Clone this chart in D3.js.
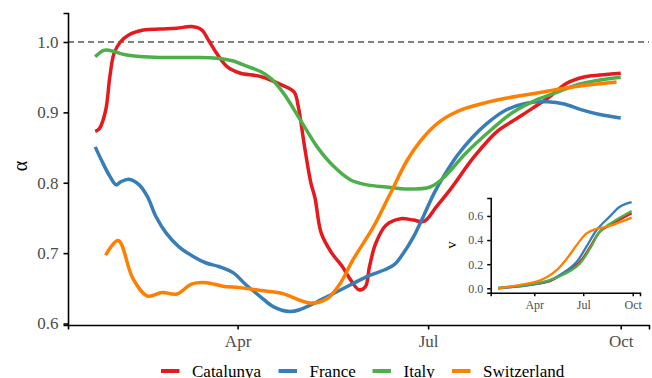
<!DOCTYPE html>
<html>
<head>
<meta charset="utf-8">
<script src="https://cdn.jsdelivr.net/npm/d3@7"></script>
<style>
  body { margin: 0; background: #fff; }
  svg { display: block; font-family: "Liberation Serif", "DejaVu Serif", serif; }
</style>
</head>
<body>
<svg id="chart" width="652" height="378"></svg>
<script>
// series names and colours
let countries = ["Catalunya", "France", "Italy", "Switzerland"];
let colors = ["#E41A1C", "#377EB8", "#4DAF4A", "#FF7F00"];

// alpha (main panel)
let alphaCatalunya = [
  ["2020-01-24", 0.873], ["2020-01-26", 0.877], ["2020-01-29", 0.903], ["2020-01-31", 0.951],
  ["2020-02-02", 0.984], ["2020-02-05", 1.000], ["2020-02-09", 1.010], ["2020-02-16", 1.017],
  ["2020-02-24", 1.0185], ["2020-03-03", 1.0195], ["2020-03-10", 1.022], ["2020-03-15", 1.017],
  ["2020-03-18", 1.003], ["2020-03-22", 0.984], ["2020-03-27", 0.965], ["2020-04-02", 0.956],
  ["2020-04-12", 0.951], ["2020-04-22", 0.939], ["2020-04-28", 0.929], ["2020-04-30", 0.908],
  ["2020-05-03", 0.851], ["2020-05-06", 0.800], ["2020-05-08", 0.778], ["2020-05-11", 0.728],
  ["2020-05-16", 0.700], ["2020-05-21", 0.681], ["2020-05-25", 0.662], ["2020-05-29", 0.648],
  ["2020-06-01", 0.652], ["2020-06-03", 0.681], ["2020-06-06", 0.714], ["2020-06-11", 0.740],
  ["2020-06-18", 0.749], ["2020-06-24", 0.747], ["2020-06-29", 0.745], ["2020-07-05", 0.766],
  ["2020-07-12", 0.792], ["2020-07-23", 0.837], ["2020-08-03", 0.873], ["2020-08-10", 0.887],
  ["2020-08-20", 0.906], ["2020-08-28", 0.922], ["2020-09-05", 0.941], ["2020-09-13", 0.950],
  ["2020-09-21", 0.953], ["2020-10-01", 0.9555]
];
let alphaFrance = [
  ["2020-01-24", 0.851], ["2020-01-27", 0.832], ["2020-01-31", 0.809], ["2020-02-03", 0.797],
  ["2020-02-05", 0.801], ["2020-02-09", 0.805], ["2020-02-14", 0.797], ["2020-02-18", 0.780],
  ["2020-02-22", 0.752], ["2020-02-27", 0.728], ["2020-03-04", 0.709], ["2020-03-11", 0.695],
  ["2020-03-17", 0.686], ["2020-03-23", 0.681], ["2020-03-30", 0.672], ["2020-04-05", 0.655],
  ["2020-04-12", 0.638], ["2020-04-18", 0.624], ["2020-04-26", 0.617], ["2020-05-01", 0.620],
  ["2020-05-09", 0.631], ["2020-05-17", 0.643], ["2020-05-25", 0.655], ["2020-06-02", 0.667],
  ["2020-06-10", 0.676], ["2020-06-15", 0.684], ["2020-06-19", 0.699], ["2020-06-24", 0.723],
  ["2020-06-29", 0.754], ["2020-07-04", 0.786], ["2020-07-09", 0.812], ["2020-07-15", 0.839],
  ["2020-07-22", 0.864], ["2020-07-29", 0.884], ["2020-08-07", 0.903], ["2020-08-17", 0.913],
  ["2020-08-27", 0.915], ["2020-09-04", 0.912], ["2020-09-12", 0.904], ["2020-09-21", 0.897],
  ["2020-10-01", 0.892]
];
let alphaItaly = [
  ["2020-01-24", 0.979], ["2020-01-28", 0.988], ["2020-01-31", 0.988], ["2020-02-08", 0.9815],
  ["2020-02-24", 0.978], ["2020-03-11", 0.978], ["2020-03-22", 0.977], ["2020-03-30", 0.973],
  ["2020-04-05", 0.966], ["2020-04-12", 0.958], ["2020-04-17", 0.948], ["2020-04-23", 0.927],
  ["2020-05-01", 0.889], ["2020-05-09", 0.851], ["2020-05-17", 0.823], ["2020-05-25", 0.804],
  ["2020-06-02", 0.797], ["2020-06-11", 0.794], ["2020-06-21", 0.791], ["2020-07-02", 0.794],
  ["2020-07-08", 0.806], ["2020-07-19", 0.842], ["2020-07-31", 0.875], ["2020-08-10", 0.899],
  ["2020-08-22", 0.918], ["2020-08-31", 0.928], ["2020-09-11", 0.940], ["2020-09-21", 0.946],
  ["2020-10-01", 0.950]
];
let alphaSwitzerland = [
  ["2020-01-29", 0.697], ["2020-02-04", 0.718], ["2020-02-11", 0.664], ["2020-02-18", 0.639],
  ["2020-02-25", 0.644], ["2020-03-03", 0.642], ["2020-03-10", 0.656], ["2020-03-17", 0.658],
  ["2020-03-25", 0.653], ["2020-04-02", 0.651], ["2020-04-12", 0.647], ["2020-04-22", 0.643],
  ["2020-05-06", 0.629], ["2020-05-14", 0.636], ["2020-05-20", 0.657], ["2020-05-26", 0.690],
  ["2020-06-05", 0.738], ["2020-06-13", 0.785], ["2020-06-21", 0.832], ["2020-06-27", 0.858],
  ["2020-07-02", 0.875], ["2020-07-07", 0.888], ["2020-07-12", 0.897], ["2020-07-18", 0.905],
  ["2020-07-26", 0.912], ["2020-08-07", 0.920], ["2020-08-23", 0.928], ["2020-09-08", 0.936],
  ["2020-09-29", 0.943]
];

// v (inset)
let vCatalunya = [
  ["2020-01-25", 0.0], ["2020-03-24", 0.030], ["2020-04-30", 0.060], ["2020-05-25", 0.124],
  ["2020-06-25", 0.221], ["2020-07-14", 0.345], ["2020-08-01", 0.470], ["2020-08-26", 0.539],
  ["2020-09-29", 0.622]
];
let vFrance = [
  ["2020-01-25", 0.0], ["2020-03-24", 0.027], ["2020-04-24", 0.055], ["2020-05-25", 0.129],
  ["2020-06-19", 0.221], ["2020-07-07", 0.345], ["2020-07-26", 0.484], ["2020-08-19", 0.594],
  ["2020-09-07", 0.677], ["2020-09-29", 0.714]
];
let vItaly = [
  ["2020-01-25", 0.005], ["2020-03-24", 0.033], ["2020-04-30", 0.069], ["2020-06-01", 0.129],
  ["2020-06-25", 0.207], ["2020-07-14", 0.332], ["2020-08-01", 0.470], ["2020-08-26", 0.553],
  ["2020-09-29", 0.641]
];
let vSwitzerland = [
  ["2020-01-25", 0.0], ["2020-03-05", 0.027], ["2020-04-05", 0.055], ["2020-04-24", 0.091],
  ["2020-05-13", 0.152], ["2020-06-01", 0.249], ["2020-06-19", 0.359], ["2020-07-07", 0.456],
  ["2020-07-23", 0.490], ["2020-08-14", 0.511], ["2020-09-07", 0.548], ["2020-09-29", 0.586]
];

let alphaTicks = [0.6, 0.7, 0.8, 0.9, 1.0];
let vTicks = [0.0, 0.2, 0.4, 0.6];
let monthTicks = ["2020-04-01", "2020-07-01", "2020-10-01"];
let monthLabels = ["Apr", "Jul", "Oct"];

const alphaSeries = [alphaCatalunya, alphaFrance, alphaItaly, alphaSwitzerland];
const vSeries = [vCatalunya, vFrance, vItaly, vSwitzerland];

const parse = d3.timeParse("%Y-%m-%d");
const svg = d3.select("#chart");
const dateDomain = [new Date(2020, 0, 11), new Date(2020, 9, 14, 12)];

// main panel
const x = d3.scaleTime().domain(dateDomain).range([68, 649]);
const y = d3.scaleLinear().domain([0.5979, 1.0412]).range([325, 13]);

const line = d3.line()
  .x(d => x(parse(d[0])))
  .y(d => y(d[1]))
  .curve(d3.curveCatmullRom.alpha(0.5));

svg.append("line")
  .attr("x1", 68).attr("x2", 649)
  .attr("y1", y(1)).attr("y2", y(1))
  .style("stroke", "#000")
  .style("stroke-width", 1)
  .style("stroke-dasharray", "6,4");

svg.append("g")
  .selectAll("path")
  .data(alphaSeries)
  .enter()
  .append("path")
  .attr("d", d => line(d))
  .style("fill", "none")
  .style("stroke", (d, i) => colors[i])
  .style("stroke-width", 3.5)
  .style("stroke-linejoin", "round");

const yAxis = svg.append("g")
  .attr("transform", "translate(68,0)")
  .call(d3.axisLeft(y).tickValues(alphaTicks).tickFormat(d3.format(".1f")).tickSizeOuter(0).tickSize(4.5).tickPadding(5));

const xAxis = svg.append("g")
  .attr("transform", "translate(0,325)")
  .call(d3.axisBottom(x).tickValues(monthTicks.map(parse))
    .tickFormat((d, i) => monthLabels[i]).tickSizeOuter(0).tickSize(4.5).tickPadding(5));

[yAxis, xAxis].forEach(a => {
  a.select(".domain").style("stroke", "#000").style("stroke-width", 1.6);
  a.selectAll(".tick line").style("stroke", "#000").style("stroke-width", 1.6);
  a.selectAll(".tick text")
    .style("font-family", "Liberation Serif")
    .style("font-size", "17px")
    .style("fill", "#4d4d4d");
});

svg.append("text")
  .attr("transform", "translate(27,166) rotate(-90)")
  .attr("text-anchor", "middle")
  .style("font-size", "20px")
  .style("fill", "#000")
  .text("α");

// inset panel
const xi = d3.scaleTime().domain(dateDomain).range([490.7, 640]);
const yi = d3.scaleLinear().domain([-0.0365, 0.749]).range([292.7, 198]);

const lineInset = d3.line()
  .x(d => xi(parse(d[0])))
  .y(d => yi(d[1]))
  .curve(d3.curveCatmullRom.alpha(0.5));

svg.append("g")
  .selectAll("path")
  .data(vSeries)
  .enter()
  .append("path")
  .attr("d", d => lineInset(d))
  .style("fill", "none")
  .style("stroke", (d, i) => colors[i])
  .style("stroke-width", 2.3);

const yAxisI = svg.append("g")
  .attr("transform", "translate(490.7,0)")
  .call(d3.axisLeft(yi).tickValues(vTicks).tickFormat(d3.format(".1f")).tickSizeOuter(0).tickSize(3.5).tickPadding(4));

const xAxisI = svg.append("g")
  .attr("transform", "translate(0,292.7)")
  .call(d3.axisBottom(xi).tickValues(monthTicks.map(parse))
    .tickFormat((d, i) => monthLabels[i]).tickSizeOuter(0).tickSize(3.5).tickPadding(4));

[yAxisI, xAxisI].forEach(a => {
  a.select(".domain").style("stroke", "#000").style("stroke-width", 1.5);
  a.selectAll(".tick line").style("stroke", "#000").style("stroke-width", 1.5);
  a.selectAll(".tick text")
    .style("font-family", "Liberation Serif")
    .style("font-size", "12px")
    .style("fill", "#4d4d4d");
});

svg.append("text")
  .attr("transform", "translate(456,245) rotate(-90)")
  .attr("text-anchor", "middle")
  .style("font-size", "15px")
  .style("fill", "#000")
  .text("v");

// legend
const legendX = [161, 278.5, 372.5, 452];
const legend = svg.append("g")
  .selectAll("g")
  .data(countries)
  .enter()
  .append("g")
  .attr("transform", (d, i) => "translate(" + legendX[i] + ",371)");

legend.append("line")
  .attr("x1", 0).attr("x2", 18.5)
  .style("stroke", (d, i) => colors[i])
  .style("stroke-width", 4);

legend.append("text")
  .attr("x", 31)
  .attr("y", 5.5)
  .style("font-size", "17px")
  .style("fill", "#000")
  .text(d => d);
</script>
</body>
</html>
